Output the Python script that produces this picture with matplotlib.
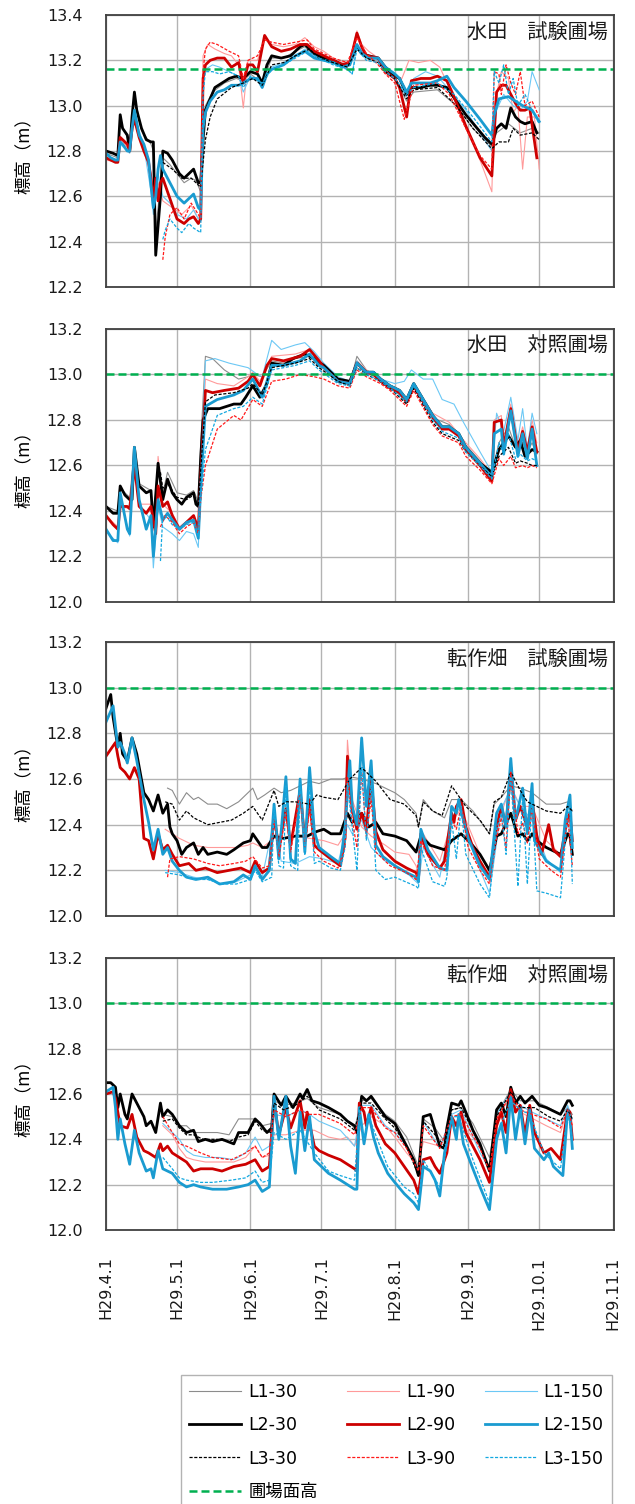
"""Groundwater level (L1-L3 wells, 30/90/150 cm) for four fields, H29.4 - H29.10."""

from datetime import date

import matplotlib
from matplotlib import pyplot as plt
from matplotlib.lines import Line2D

matplotlib.use("Agg")

plt.rcParams["font.family"] = ["DejaVu Sans", "Noto Sans CJK JP"]
CJK = ["Noto Sans CJK JP", "DejaVu Sans"]

START = date(2017, 4, 1)
MONTHS = [4, 5, 6, 7, 8, 9, 10, 11]
MONTH_LABELS = ["H29.4.1", "H29.5.1", "H29.6.1", "H29.7.1", "H29.8.1", "H29.9.1", "H29.10.1", "H29.11.1"]

TITLES = ["水田　試験圃場", "水田　対照圃場", "転作畑　試験圃場", "転作畑　対照圃場"]
FIELD_LEVEL = [13.16, 13.0, 13.0, 13.0]
Y_RANGES = [(12.2, 13.4), (12.0, 13.2), (12.0, 13.2), (12.0, 13.2)]

# (days since H29.4.1, level m)
# ---------------- 水田 試験圃場 ----------------
P1_L1_30 = [(0, 12.79), (5, 12.77), (6, 12.93), (9, 12.86), (10, 12.80), (12, 13.04), (15, 12.89), (19, 12.83), (20, 12.80), (21, 12.45), (23, 12.65), (24, 12.77), (27, 12.74), (30, 12.70), (33, 12.66), (36, 12.68), (38, 12.67), (40, 12.62), (41, 12.95), (42, 13.00), (45, 13.06), (50, 13.10), (55, 13.12), (58, 13.11), (61, 13.14), (66, 13.10), (70, 13.21), (75, 13.21), (80, 13.24), (84, 13.26), (88, 13.22), (96, 13.19), (102, 13.17), (106, 13.25), (110, 13.21), (115, 13.20), (118, 13.16), (122, 13.12), (127, 13.02), (130, 13.06), (140, 13.07), (148, 13.00), (155, 12.90), (163, 12.82), (165, 12.88), (170, 12.92), (175, 12.88), (180, 12.90), (183, 12.88)]
P1_L1_90 = [(0, 12.76), (5, 12.75), (6, 12.86), (10, 12.80), (12, 12.94), (16, 12.80), (19, 12.70), (20, 12.60), (22, 12.66), (24, 12.58), (28, 12.55), (32, 12.52), (36, 12.56), (39, 12.50), (40, 12.52), (41, 13.22), (43, 13.27), (46, 13.25), (50, 13.23), (53, 13.22), (56, 13.18), (58, 12.99), (60, 13.20), (64, 13.20), (67, 13.30), (70, 13.27), (75, 13.26), (80, 13.27), (84, 13.30), (88, 13.26), (92, 13.24), (96, 13.21), (100, 13.19), (103, 13.20), (106, 13.33), (108, 13.27), (111, 13.24), (115, 13.21), (118, 13.16), (122, 13.13), (125, 13.12), (128, 13.20), (132, 13.19), (137, 13.20), (141, 13.17), (145, 13.08), (152, 12.90), (158, 12.76), (163, 12.62), (164, 13.00), (167, 13.15), (170, 13.12), (172, 12.97), (174, 13.00), (176, 12.72), (178, 12.95), (181, 12.95), (183, 12.72)]
P1_L1_150 = [(0, 12.78), (5, 12.76), (6, 12.83), (10, 12.79), (12, 12.96), (16, 12.82), (19, 12.62), (20, 12.52), (22, 12.70), (24, 12.60), (27, 12.57), (30, 12.52), (34, 12.50), (37, 12.54), (39, 12.50), (40, 12.52), (41, 13.12), (42, 13.16), (45, 13.18), (48, 13.17), (52, 13.15), (56, 13.13), (58, 13.06), (61, 13.13), (66, 13.10), (70, 13.17), (75, 13.19), (80, 13.22), (84, 13.25), (88, 13.22), (96, 13.19), (102, 13.16), (104, 13.14), (106, 13.27), (110, 13.22), (115, 13.20), (118, 13.16), (122, 13.12), (127, 13.04), (130, 13.12), (135, 13.15), (140, 13.13), (145, 13.07), (152, 12.98), (158, 12.88), (163, 12.80), (165, 12.98), (168, 13.05), (172, 13.00), (175, 12.98), (178, 13.02), (180, 13.15), (183, 13.07)]
P1_L2_30 = [(0, 12.80), (3, 12.79), (5, 12.78), (6, 12.96), (7, 12.90), (9, 12.87), (10, 12.80), (11, 12.95), (12, 13.06), (13, 12.98), (15, 12.90), (17, 12.85), (19, 12.84), (20, 12.84), (21, 12.34), (23, 12.60), (24, 12.80), (26, 12.79), (28, 12.76), (31, 12.70), (33, 12.68), (35, 12.70), (37, 12.72), (39, 12.66), (40, 12.66), (41, 12.85), (42, 12.98), (44, 13.03), (46, 13.08), (49, 13.10), (52, 13.12), (55, 13.13), (58, 13.12), (61, 13.15), (64, 13.14), (66, 13.10), (68, 13.18), (70, 13.22), (74, 13.21), (78, 13.22), (82, 13.26), (84, 13.27), (88, 13.23), (92, 13.21), (96, 13.20), (100, 13.18), (103, 13.19), (106, 13.26), (108, 13.23), (111, 13.22), (115, 13.21), (118, 13.17), (122, 13.13), (124, 13.12), (127, 13.05), (129, 13.08), (133, 13.08), (137, 13.09), (140, 13.09), (144, 13.08), (148, 13.02), (152, 12.96), (156, 12.91), (160, 12.86), (163, 12.83), (165, 12.90), (167, 12.92), (169, 12.90), (171, 12.99), (173, 12.95), (175, 12.93), (177, 12.92), (180, 12.93), (182, 12.88)]
P1_L2_90 = [(0, 12.77), (2, 12.76), (4, 12.75), (5, 12.75), (6, 12.86), (7, 12.85), (9, 12.83), (10, 12.80), (11, 12.90), (12, 12.94), (14, 12.86), (16, 12.80), (18, 12.75), (19, 12.68), (20, 12.58), (21, 12.68), (22, 12.58), (23, 12.66), (24, 12.68), (26, 12.62), (28, 12.56), (30, 12.50), (33, 12.48), (35, 12.50), (37, 12.51), (39, 12.48), (40, 12.50), (41, 13.12), (42, 13.18), (44, 13.20), (47, 13.21), (50, 13.21), (53, 13.17), (56, 13.19), (58, 13.10), (60, 13.18), (62, 13.18), (64, 13.15), (67, 13.31), (70, 13.26), (74, 13.24), (78, 13.25), (82, 13.27), (85, 13.27), (88, 13.24), (92, 13.22), (96, 13.20), (100, 13.18), (103, 13.19), (106, 13.32), (108, 13.26), (110, 13.22), (115, 13.21), (118, 13.15), (122, 13.12), (124, 13.08), (127, 12.95), (129, 13.11), (133, 13.12), (137, 13.12), (140, 13.13), (144, 13.11), (147, 13.04), (152, 12.91), (158, 12.77), (163, 12.69), (165, 13.06), (167, 13.09), (169, 13.09), (171, 13.05), (173, 13.01), (175, 12.98), (177, 12.98), (179, 12.99), (182, 12.77)]
P1_L2_150 = [(0, 12.79), (2, 12.77), (4, 12.76), (5, 12.76), (6, 12.84), (7, 12.83), (9, 12.80), (10, 12.80), (11, 12.90), (12, 12.98), (14, 12.87), (16, 12.83), (18, 12.76), (19, 12.65), (20, 12.55), (21, 12.60), (22, 12.72), (23, 12.78), (24, 12.72), (26, 12.68), (28, 12.64), (30, 12.60), (33, 12.57), (35, 12.59), (37, 12.61), (39, 12.55), (40, 12.54), (41, 12.90), (42, 12.97), (44, 13.02), (47, 13.06), (50, 13.07), (53, 13.09), (56, 13.09), (58, 13.10), (61, 13.12), (64, 13.12), (66, 13.08), (68, 13.14), (70, 13.16), (75, 13.18), (80, 13.22), (84, 13.24), (88, 13.21), (92, 13.20), (96, 13.19), (100, 13.17), (103, 13.18), (106, 13.27), (108, 13.23), (111, 13.21), (115, 13.21), (118, 13.17), (122, 13.14), (124, 13.12), (127, 13.06), (129, 13.10), (133, 13.10), (137, 13.10), (140, 13.11), (144, 13.13), (147, 13.08), (152, 13.02), (158, 12.94), (163, 12.87), (164, 12.96), (166, 13.03), (170, 13.04), (173, 13.02), (176, 13.00), (180, 12.98), (183, 12.93)]
P1_L3_30 = [(24, 12.75), (28, 12.72), (32, 12.68), (36, 12.68), (40, 12.64), (41, 12.75), (42, 12.85), (44, 12.95), (47, 13.03), (53, 13.08), (58, 13.10), (62, 13.12), (66, 13.09), (70, 13.18), (75, 13.19), (80, 13.22), (86, 13.25), (90, 13.21), (96, 13.19), (102, 13.17), (106, 13.25), (110, 13.21), (115, 13.19), (118, 13.15), (122, 13.12), (127, 13.03), (130, 13.07), (140, 13.08), (148, 13.00), (155, 12.90), (163, 12.81), (166, 12.84), (170, 12.84), (172, 12.90), (175, 12.87), (180, 12.88), (183, 12.85)]
P1_L3_90 = [(24, 12.32), (25, 12.42), (27, 12.52), (30, 12.55), (33, 12.50), (36, 12.57), (39, 12.52), (40, 12.50), (41, 13.15), (42, 13.25), (44, 13.28), (47, 13.27), (52, 13.24), (56, 13.22), (58, 13.12), (60, 13.20), (64, 13.22), (67, 13.29), (70, 13.28), (75, 13.27), (80, 13.28), (85, 13.29), (88, 13.25), (96, 13.21), (102, 13.19), (106, 13.30), (110, 13.23), (115, 13.18), (118, 13.14), (122, 13.10), (126, 12.94), (130, 13.09), (140, 13.10), (145, 13.05), (152, 12.90), (158, 12.78), (163, 12.72), (164, 13.15), (166, 13.14), (167, 13.05), (169, 13.18), (171, 13.10), (173, 13.05), (175, 13.15), (177, 13.00), (180, 13.02), (183, 12.95)]
P1_L3_150 = [(24, 12.41), (25, 12.45), (27, 12.50), (30, 12.46), (32, 12.44), (35, 12.48), (37, 12.46), (40, 12.44), (41, 13.05), (42, 13.15), (45, 13.15), (48, 13.14), (52, 13.15), (56, 13.13), (58, 13.08), (61, 13.13), (66, 13.10), (70, 13.16), (75, 13.18), (80, 13.21), (85, 13.24), (90, 13.21), (96, 13.18), (102, 13.16), (104, 13.14), (106, 13.25), (110, 13.20), (115, 13.19), (118, 13.15), (122, 13.12), (127, 13.05), (130, 13.08), (140, 13.10), (147, 13.05), (155, 12.95), (163, 12.84), (164, 13.15), (166, 13.10), (168, 13.18), (170, 13.05), (172, 13.12), (174, 13.00), (177, 13.05), (180, 12.98), (183, 12.92)]

# ---------------- 水田 対照圃場 ----------------
P2_L1_30 = [(0, 12.42), (5, 12.40), (6, 12.50), (10, 12.46), (12, 12.66), (14, 12.52), (19, 12.49), (20, 12.36), (22, 12.60), (24, 12.48), (26, 12.57), (30, 12.48), (34, 12.47), (37, 12.49), (39, 12.44), (40, 12.70), (42, 13.08), (45, 13.07), (50, 13.02), (56, 12.98), (60, 12.99), (62, 13.00), (66, 12.99), (70, 13.06), (75, 13.05), (80, 13.07), (86, 13.08), (90, 13.05), (98, 12.98), (103, 12.96), (106, 13.08), (110, 13.02), (116, 12.98), (120, 12.95), (127, 12.88), (130, 12.95), (138, 12.81), (145, 12.78), (152, 12.69), (158, 12.62), (163, 12.56), (166, 12.70), (170, 12.77), (173, 12.68), (175, 12.72), (178, 12.66), (180, 12.70), (182, 12.65)]
P2_L1_90 = [(0, 12.38), (5, 12.33), (6, 12.42), (10, 12.41), (12, 12.58), (14, 12.43), (19, 12.43), (21, 12.32), (22, 12.64), (24, 12.43), (28, 12.39), (31, 12.33), (37, 12.38), (39, 12.33), (40, 12.60), (42, 12.98), (47, 12.96), (54, 12.95), (60, 12.99), (62, 13.01), (65, 12.97), (70, 13.08), (80, 13.09), (86, 13.11), (90, 13.07), (98, 12.98), (103, 12.97), (106, 13.06), (110, 13.02), (116, 12.98), (120, 12.95), (127, 12.90), (130, 12.96), (138, 12.83), (145, 12.79), (152, 12.70), (158, 12.63), (163, 12.56), (164, 12.80), (167, 12.82), (168, 12.70), (171, 12.87), (174, 12.68), (176, 12.77), (178, 12.68), (180, 12.80), (182, 12.70)]
P2_L1_150 = [(0, 12.31), (5, 12.26), (6, 12.46), (10, 12.29), (12, 12.66), (14, 12.43), (19, 12.36), (20, 12.15), (22, 12.42), (24, 12.33), (28, 12.30), (31, 12.27), (34, 12.31), (37, 12.30), (39, 12.24), (40, 12.55), (42, 13.06), (46, 13.07), (52, 13.05), (56, 13.04), (60, 13.03), (64, 13.00), (66, 12.99), (70, 13.15), (74, 13.11), (80, 13.13), (84, 13.14), (88, 13.10), (92, 13.05), (98, 12.99), (103, 12.97), (106, 13.06), (110, 13.01), (116, 12.98), (122, 12.96), (126, 12.97), (129, 13.02), (134, 12.98), (138, 12.98), (142, 12.89), (147, 12.87), (151, 12.79), (158, 12.66), (163, 12.57), (165, 12.83), (168, 12.75), (171, 12.90), (174, 12.71), (176, 12.85), (178, 12.67), (180, 12.83), (182, 12.74)]
P2_L2_30 = [(0, 12.42), (3, 12.39), (5, 12.39), (6, 12.51), (8, 12.47), (10, 12.45), (11, 12.45), (12, 12.68), (14, 12.51), (17, 12.48), (19, 12.49), (20, 12.33), (22, 12.61), (24, 12.45), (26, 12.54), (28, 12.48), (30, 12.45), (32, 12.43), (34, 12.46), (37, 12.48), (38, 12.43), (39, 12.42), (40, 12.63), (41, 12.80), (43, 12.85), (48, 12.85), (54, 12.87), (57, 12.87), (59, 12.90), (62, 12.95), (65, 12.90), (68, 12.96), (70, 13.05), (75, 13.04), (79, 13.07), (84, 13.09), (88, 13.07), (92, 13.04), (98, 12.98), (103, 12.97), (106, 13.05), (110, 13.01), (113, 13.01), (116, 12.98), (120, 12.95), (124, 12.93), (127, 12.89), (130, 12.96), (134, 12.89), (138, 12.82), (142, 12.77), (145, 12.77), (149, 12.74), (152, 12.68), (158, 12.61), (163, 12.57), (166, 12.67), (170, 12.73), (173, 12.68), (175, 12.71), (177, 12.64), (180, 12.67), (182, 12.66)]
P2_L2_90 = [(0, 12.38), (3, 12.34), (5, 12.32), (6, 12.42), (9, 12.42), (10, 12.41), (12, 12.60), (14, 12.42), (17, 12.39), (19, 12.42), (21, 12.30), (22, 12.51), (24, 12.42), (26, 12.44), (28, 12.38), (31, 12.32), (34, 12.35), (37, 12.38), (39, 12.32), (40, 12.55), (42, 12.93), (45, 12.92), (50, 12.93), (56, 12.94), (60, 12.97), (62, 13.00), (65, 12.95), (68, 13.04), (70, 13.07), (75, 13.06), (82, 13.08), (86, 13.11), (90, 13.06), (92, 13.03), (98, 12.97), (103, 12.96), (106, 13.05), (110, 13.01), (113, 13.00), (116, 12.97), (120, 12.94), (124, 12.92), (127, 12.88), (130, 12.95), (134, 12.88), (138, 12.81), (142, 12.76), (145, 12.76), (149, 12.73), (152, 12.67), (158, 12.60), (163, 12.53), (164, 12.79), (167, 12.80), (168, 12.68), (171, 12.85), (174, 12.66), (176, 12.75), (178, 12.66), (180, 12.77), (182, 12.66)]
P2_L2_150 = [(0, 12.32), (3, 12.27), (5, 12.27), (6, 12.48), (9, 12.32), (10, 12.30), (12, 12.68), (14, 12.45), (17, 12.32), (19, 12.38), (20, 12.20), (22, 12.45), (24, 12.36), (26, 12.39), (28, 12.36), (31, 12.32), (34, 12.35), (37, 12.36), (39, 12.28), (40, 12.50), (42, 12.86), (47, 12.89), (54, 12.91), (58, 12.93), (62, 12.98), (66, 12.90), (70, 13.04), (75, 13.04), (82, 13.06), (86, 13.09), (90, 13.04), (92, 13.03), (98, 12.97), (103, 12.96), (106, 13.05), (110, 13.01), (113, 13.01), (116, 12.98), (120, 12.95), (124, 12.93), (127, 12.89), (130, 12.96), (134, 12.89), (138, 12.82), (142, 12.77), (145, 12.77), (149, 12.74), (152, 12.68), (158, 12.61), (163, 12.55), (164, 12.74), (167, 12.76), (168, 12.65), (171, 12.84), (174, 12.64), (176, 12.74), (178, 12.63), (180, 12.76), (182, 12.60)]
P2_L3_30 = [(23, 12.57), (24, 12.50), (26, 12.52), (30, 12.46), (34, 12.45), (37, 12.47), (39, 12.42), (40, 12.58), (42, 12.88), (46, 12.91), (54, 12.92), (60, 12.94), (62, 12.96), (66, 12.91), (70, 13.03), (80, 13.05), (86, 13.07), (90, 13.03), (98, 12.97), (103, 12.95), (106, 13.03), (110, 13.00), (116, 12.97), (120, 12.94), (127, 12.87), (130, 12.94), (138, 12.79), (142, 12.74), (149, 12.71), (152, 12.66), (158, 12.60), (163, 12.55), (166, 12.64), (170, 12.68), (173, 12.61), (175, 12.62), (178, 12.61), (180, 12.60), (182, 12.60)]
P2_L3_90 = [(23, 12.33), (25, 12.38), (28, 12.35), (31, 12.30), (34, 12.33), (37, 12.35), (39, 12.30), (40, 12.45), (42, 12.60), (47, 12.76), (54, 12.82), (57, 12.80), (62, 12.89), (66, 12.86), (70, 12.97), (76, 12.98), (82, 13.00), (88, 12.99), (92, 12.98), (98, 12.95), (103, 12.94), (106, 13.02), (110, 12.99), (116, 12.96), (120, 12.93), (127, 12.86), (130, 12.93), (138, 12.78), (142, 12.73), (149, 12.70), (152, 12.64), (158, 12.58), (163, 12.52), (166, 12.63), (168, 12.60), (171, 12.64), (173, 12.59), (176, 12.60), (178, 12.59), (180, 12.60), (182, 12.59)]
P2_L3_150 = [(23, 12.18), (24, 12.38), (26, 12.37), (28, 12.34), (31, 12.32), (34, 12.34), (37, 12.35), (39, 12.29), (40, 12.45), (42, 12.67), (47, 12.82), (54, 12.85), (58, 12.86), (62, 12.90), (66, 12.87), (70, 13.02), (80, 13.04), (86, 13.06), (90, 13.02), (98, 12.96), (103, 12.95), (106, 13.03), (110, 13.00), (116, 12.97), (120, 12.94), (127, 12.88), (130, 12.95), (138, 12.80), (142, 12.75), (149, 12.72), (152, 12.66), (158, 12.60), (163, 12.54), (166, 12.70), (168, 12.65), (170, 12.74), (173, 12.63), (175, 12.65), (178, 12.62), (180, 12.63), (182, 12.62)]

# ---------------- 転作畑 試験圃場 ----------------
P3_L1_30 = [(26, 12.56), (28, 12.55), (31, 12.49), (34, 12.54), (37, 12.51), (39, 12.52), (43, 12.49), (47, 12.49), (51, 12.47), (56, 12.50), (62, 12.56), (64, 12.51), (67, 12.53), (71, 12.56), (74, 12.54), (78, 12.55), (82, 12.57), (86, 12.59), (90, 12.58), (95, 12.60), (100, 12.60), (103, 12.61), (108, 12.60), (114, 12.58), (118, 12.56), (122, 12.54), (126, 12.51), (131, 12.45), (132, 12.39), (134, 12.51), (138, 12.46), (143, 12.43), (146, 12.51), (150, 12.51), (155, 12.46), (162, 12.36), (164, 12.49), (167, 12.52), (171, 12.57), (175, 12.56), (180, 12.54), (186, 12.49), (192, 12.49), (195, 12.50), (197, 12.46)]
P3_L1_90 = [(25, 12.38), (31, 12.34), (37, 12.31), (43, 12.30), (50, 12.30), (55, 12.30), (60, 12.31), (62, 12.32), (66, 12.30), (71, 12.34), (76, 12.34), (80, 12.35), (86, 12.34), (92, 12.33), (98, 12.31), (101, 12.36), (102, 12.77), (104, 12.51), (108, 12.39), (112, 12.35), (118, 12.31), (122, 12.28), (128, 12.27), (131, 12.22), (132, 12.18), (134, 12.36), (141, 12.24), (146, 12.41), (150, 12.47), (158, 12.27), (162, 12.19), (166, 12.42), (171, 12.57), (175, 12.48), (180, 12.48), (186, 12.33), (192, 12.27), (195, 12.36), (197, 12.39)]
P3_L1_150 = [(25, 12.20), (31, 12.19), (37, 12.17), (43, 12.16), (49, 12.14), (55, 12.15), (61, 12.18), (63, 12.22), (66, 12.17), (71, 12.42), (74, 12.24), (80, 12.23), (86, 12.26), (92, 12.25), (98, 12.23), (102, 12.40), (104, 12.36), (108, 12.42), (112, 12.30), (118, 12.24), (122, 12.22), (128, 12.18), (132, 12.14), (134, 12.30), (141, 12.17), (146, 12.43), (150, 12.48), (155, 12.28), (162, 12.10), (167, 12.47), (171, 12.56), (175, 12.48), (180, 12.42), (186, 12.25), (192, 12.19), (195, 12.42), (197, 12.30)]
P3_L2_30 = [(0, 12.91), (2, 12.97), (3, 12.87), (5, 12.74), (6, 12.80), (7, 12.71), (9, 12.68), (11, 12.78), (13, 12.71), (16, 12.54), (18, 12.51), (20, 12.46), (22, 12.53), (24, 12.45), (26, 12.49), (27, 12.39), (28, 12.36), (30, 12.33), (32, 12.27), (34, 12.30), (37, 12.32), (39, 12.27), (41, 12.30), (43, 12.27), (47, 12.28), (51, 12.27), (54, 12.29), (58, 12.32), (61, 12.33), (62, 12.36), (64, 12.33), (66, 12.30), (68, 12.30), (71, 12.35), (75, 12.34), (80, 12.35), (85, 12.35), (89, 12.37), (92, 12.38), (95, 12.36), (99, 12.36), (102, 12.45), (104, 12.41), (108, 12.45), (111, 12.39), (114, 12.41), (117, 12.36), (122, 12.35), (127, 12.33), (131, 12.28), (133, 12.35), (137, 12.31), (143, 12.29), (146, 12.33), (150, 12.36), (154, 12.32), (158, 12.27), (162, 12.20), (165, 12.35), (167, 12.36), (171, 12.45), (174, 12.35), (176, 12.36), (178, 12.33), (180, 12.36), (182, 12.33), (186, 12.30), (192, 12.27), (195, 12.36), (196, 12.35), (197, 12.27)]
P3_L2_90 = [(0, 12.70), (4, 12.76), (5, 12.70), (6, 12.65), (8, 12.63), (10, 12.60), (12, 12.65), (14, 12.60), (16, 12.34), (18, 12.33), (20, 12.25), (22, 12.36), (24, 12.29), (26, 12.31), (28, 12.27), (31, 12.22), (35, 12.23), (38, 12.20), (42, 12.21), (47, 12.19), (52, 12.20), (57, 12.21), (61, 12.19), (63, 12.24), (66, 12.19), (69, 12.21), (71, 12.44), (73, 12.30), (76, 12.47), (78, 12.31), (82, 12.55), (84, 12.33), (86, 12.51), (88, 12.31), (90, 12.29), (95, 12.25), (99, 12.22), (101, 12.34), (102, 12.70), (104, 12.47), (106, 12.38), (108, 12.45), (110, 12.38), (112, 12.60), (114, 12.37), (117, 12.29), (122, 12.24), (127, 12.21), (131, 12.19), (132, 12.16), (133, 12.36), (136, 12.27), (141, 12.21), (143, 12.24), (146, 12.45), (147, 12.41), (148, 12.48), (150, 12.51), (152, 12.39), (155, 12.30), (158, 12.24), (162, 12.17), (165, 12.39), (167, 12.48), (169, 12.39), (171, 12.65), (173, 12.42), (175, 12.48), (178, 12.39), (180, 12.51), (182, 12.35), (184, 12.27), (187, 12.40), (189, 12.29), (192, 12.26), (195, 12.43), (196, 12.45), (197, 12.33)]
P3_L2_150 = [(0, 12.85), (3, 12.92), (5, 12.74), (6, 12.76), (8, 12.71), (9, 12.67), (11, 12.78), (13, 12.68), (16, 12.51), (18, 12.41), (20, 12.29), (22, 12.38), (24, 12.27), (26, 12.30), (28, 12.24), (31, 12.20), (34, 12.17), (38, 12.16), (43, 12.17), (48, 12.14), (54, 12.15), (58, 12.18), (61, 12.16), (63, 12.22), (66, 12.16), (69, 12.20), (71, 12.49), (73, 12.25), (76, 12.61), (78, 12.25), (80, 12.23), (82, 12.60), (84, 12.28), (86, 12.65), (88, 12.37), (90, 12.30), (95, 12.26), (99, 12.23), (101, 12.39), (103, 12.68), (104, 12.48), (106, 12.40), (108, 12.78), (110, 12.48), (112, 12.68), (114, 12.31), (117, 12.26), (122, 12.22), (127, 12.19), (131, 12.17), (132, 12.15), (133, 12.38), (136, 12.29), (141, 12.21), (144, 12.20), (146, 12.48), (148, 12.45), (149, 12.51), (150, 12.46), (153, 12.34), (158, 12.22), (162, 12.16), (165, 12.45), (167, 12.49), (169, 12.39), (171, 12.69), (173, 12.42), (176, 12.56), (178, 12.36), (180, 12.58), (181, 12.33), (186, 12.24), (192, 12.20), (194, 12.42), (196, 12.53), (197, 12.30)]
P3_L3_30 = [(25, 12.50), (28, 12.49), (31, 12.42), (34, 12.46), (37, 12.43), (39, 12.42), (43, 12.40), (48, 12.41), (53, 12.42), (58, 12.45), (62, 12.48), (66, 12.42), (71, 12.55), (73, 12.48), (76, 12.50), (80, 12.50), (86, 12.49), (89, 12.53), (92, 12.52), (98, 12.51), (103, 12.60), (108, 12.65), (111, 12.62), (114, 12.59), (120, 12.51), (126, 12.49), (131, 12.44), (132, 12.39), (134, 12.50), (138, 12.46), (142, 12.44), (146, 12.57), (148, 12.54), (152, 12.48), (158, 12.42), (162, 12.36), (164, 12.50), (167, 12.52), (171, 12.63), (175, 12.55), (178, 12.50), (182, 12.48), (186, 12.46), (192, 12.45), (195, 12.48), (197, 12.46)]
P3_L3_90 = [(26, 12.17), (27, 12.25), (31, 12.26), (37, 12.25), (43, 12.23), (48, 12.22), (54, 12.23), (59, 12.24), (62, 12.26), (66, 12.21), (69, 12.22), (71, 12.42), (73, 12.26), (76, 12.45), (78, 12.28), (82, 12.54), (84, 12.30), (86, 12.47), (88, 12.28), (92, 12.24), (98, 12.21), (101, 12.30), (102, 12.61), (104, 12.42), (106, 12.30), (108, 12.63), (110, 12.35), (112, 12.51), (114, 12.28), (120, 12.22), (127, 12.19), (131, 12.16), (133, 12.33), (138, 12.22), (143, 12.20), (146, 12.42), (148, 12.38), (150, 12.48), (153, 12.30), (158, 12.20), (162, 12.14), (165, 12.34), (167, 12.43), (169, 12.30), (171, 12.63), (174, 12.36), (176, 12.41), (178, 12.32), (180, 12.46), (183, 12.25), (188, 12.20), (192, 12.17), (195, 12.44), (197, 12.22)]
P3_L3_150 = [(25, 12.19), (31, 12.18), (37, 12.16), (43, 12.16), (49, 12.14), (55, 12.14), (61, 12.16), (63, 12.20), (66, 12.15), (70, 12.17), (71, 12.48), (73, 12.22), (75, 12.21), (76, 12.57), (78, 12.22), (81, 12.20), (82, 12.58), (84, 12.27), (86, 12.58), (88, 12.23), (90, 12.24), (95, 12.21), (99, 12.20), (101, 12.30), (102, 12.58), (104, 12.39), (106, 12.20), (108, 12.65), (110, 12.33), (112, 12.58), (114, 12.20), (118, 12.16), (122, 12.17), (131, 12.13), (132, 12.12), (133, 12.30), (138, 12.15), (143, 12.13), (144, 12.17), (146, 12.42), (148, 12.25), (150, 12.48), (152, 12.27), (158, 12.14), (162, 12.08), (165, 12.38), (167, 12.45), (169, 12.27), (171, 12.61), (174, 12.13), (176, 12.52), (178, 12.14), (180, 12.51), (182, 12.11), (186, 12.10), (192, 12.08), (195, 12.45), (196, 12.46), (197, 12.14)]

# ---------------- 転作畑 対照圃場 ----------------
P4_L1_30 = [(24, 12.51), (28, 12.50), (31, 12.46), (34, 12.46), (37, 12.43), (41, 12.43), (47, 12.43), (52, 12.42), (56, 12.49), (60, 12.49), (63, 12.49), (66, 12.46), (70, 12.47), (71, 12.57), (75, 12.55), (80, 12.56), (85, 12.58), (90, 12.54), (99, 12.51), (105, 12.45), (108, 12.57), (112, 12.58), (118, 12.51), (122, 12.48), (127, 12.41), (132, 12.28), (134, 12.49), (139, 12.45), (143, 12.39), (146, 12.53), (150, 12.54), (155, 12.47), (162, 12.32), (165, 12.51), (171, 12.62), (175, 12.57), (181, 12.57), (187, 12.54), (192, 12.51), (195, 12.54), (197, 12.51)]
P4_L1_90 = [(24, 12.46), (28, 12.42), (31, 12.36), (34, 12.32), (37, 12.31), (42, 12.30), (48, 12.30), (54, 12.30), (59, 12.32), (63, 12.37), (66, 12.32), (69, 12.33), (71, 12.42), (76, 12.42), (82, 12.44), (88, 12.44), (94, 12.41), (99, 12.40), (102, 12.41), (105, 12.37), (108, 12.46), (112, 12.50), (118, 12.46), (122, 12.41), (127, 12.34), (132, 12.28), (134, 12.39), (141, 12.37), (146, 12.46), (150, 12.47), (158, 12.37), (162, 12.28), (165, 12.49), (171, 12.59), (175, 12.52), (186, 12.46), (192, 12.43), (195, 12.53), (197, 12.43)]
P4_L1_150 = [(24, 12.47), (28, 12.43), (31, 12.40), (34, 12.35), (37, 12.33), (42, 12.32), (48, 12.32), (54, 12.31), (59, 12.34), (63, 12.41), (66, 12.35), (69, 12.37), (71, 12.51), (76, 12.50), (82, 12.53), (86, 12.51), (90, 12.48), (99, 12.44), (105, 12.37), (108, 12.55), (112, 12.55), (118, 12.46), (122, 12.43), (127, 12.37), (132, 12.27), (134, 12.48), (141, 12.36), (146, 12.51), (150, 12.53), (158, 12.34), (162, 12.27), (165, 12.51), (171, 12.61), (175, 12.55), (180, 12.52), (186, 12.49), (192, 12.46), (195, 12.55), (197, 12.49)]
P4_L2_30 = [(0, 12.65), (2, 12.65), (4, 12.63), (5, 12.54), (6, 12.60), (8, 12.51), (9, 12.49), (11, 12.60), (14, 12.54), (16, 12.50), (17, 12.46), (19, 12.48), (21, 12.43), (23, 12.56), (24, 12.50), (26, 12.53), (28, 12.51), (31, 12.46), (34, 12.43), (37, 12.44), (39, 12.39), (42, 12.40), (45, 12.39), (49, 12.40), (54, 12.38), (56, 12.43), (60, 12.43), (63, 12.49), (65, 12.47), (68, 12.43), (70, 12.45), (71, 12.60), (74, 12.55), (76, 12.59), (79, 12.54), (82, 12.60), (83, 12.58), (85, 12.62), (87, 12.57), (90, 12.56), (94, 12.54), (99, 12.51), (102, 12.48), (105, 12.46), (106, 12.43), (108, 12.59), (110, 12.57), (112, 12.59), (114, 12.56), (118, 12.50), (122, 12.47), (125, 12.41), (127, 12.37), (130, 12.31), (132, 12.24), (134, 12.50), (137, 12.51), (139, 12.44), (141, 12.37), (143, 12.36), (144, 12.45), (146, 12.56), (149, 12.55), (150, 12.57), (152, 12.52), (155, 12.44), (158, 12.38), (162, 12.26), (165, 12.53), (167, 12.56), (169, 12.50), (171, 12.63), (173, 12.56), (175, 12.59), (177, 12.56), (180, 12.59), (183, 12.55), (186, 12.54), (192, 12.51), (195, 12.57), (196, 12.57), (197, 12.55)]
P4_L2_90 = [(0, 12.60), (3, 12.61), (4, 12.58), (6, 12.46), (9, 12.45), (11, 12.51), (13, 12.41), (16, 12.35), (18, 12.34), (21, 12.32), (23, 12.38), (24, 12.35), (26, 12.37), (28, 12.34), (31, 12.32), (34, 12.30), (37, 12.26), (40, 12.27), (45, 12.27), (49, 12.26), (54, 12.28), (59, 12.29), (63, 12.31), (66, 12.26), (69, 12.28), (71, 12.57), (73, 12.42), (76, 12.54), (78, 12.45), (82, 12.57), (84, 12.45), (85, 12.52), (88, 12.37), (90, 12.35), (94, 12.33), (99, 12.31), (105, 12.27), (106, 12.26), (107, 12.56), (109, 12.52), (110, 12.46), (112, 12.54), (114, 12.46), (118, 12.38), (122, 12.34), (126, 12.28), (130, 12.22), (132, 12.16), (134, 12.31), (137, 12.32), (139, 12.28), (141, 12.25), (143, 12.31), (144, 12.34), (146, 12.50), (148, 12.46), (150, 12.52), (152, 12.43), (155, 12.37), (158, 12.31), (162, 12.21), (165, 12.46), (167, 12.52), (169, 12.43), (171, 12.62), (173, 12.52), (175, 12.55), (177, 12.42), (179, 12.55), (181, 12.43), (185, 12.34), (188, 12.36), (192, 12.31), (195, 12.53), (196, 12.52), (197, 12.40)]
P4_L2_150 = [(0, 12.61), (3, 12.63), (4, 12.54), (5, 12.40), (6, 12.49), (8, 12.38), (10, 12.29), (12, 12.44), (14, 12.34), (17, 12.26), (19, 12.27), (20, 12.23), (22, 12.35), (24, 12.27), (26, 12.26), (28, 12.25), (31, 12.21), (34, 12.19), (37, 12.20), (40, 12.19), (45, 12.18), (51, 12.18), (56, 12.19), (60, 12.20), (63, 12.22), (66, 12.17), (69, 12.19), (71, 12.59), (73, 12.40), (76, 12.59), (78, 12.37), (80, 12.25), (82, 12.52), (84, 12.35), (86, 12.50), (88, 12.31), (90, 12.29), (94, 12.25), (99, 12.22), (105, 12.18), (106, 12.18), (107, 12.54), (109, 12.38), (111, 12.51), (113, 12.41), (115, 12.34), (119, 12.25), (122, 12.21), (126, 12.16), (130, 12.12), (132, 12.09), (134, 12.28), (137, 12.26), (139, 12.22), (141, 12.15), (143, 12.34), (146, 12.50), (148, 12.40), (149, 12.51), (151, 12.38), (155, 12.27), (158, 12.19), (162, 12.09), (165, 12.40), (167, 12.47), (169, 12.34), (171, 12.59), (173, 12.40), (175, 12.54), (177, 12.38), (179, 12.53), (181, 12.36), (185, 12.31), (187, 12.34), (189, 12.28), (193, 12.24), (195, 12.53), (196, 12.50), (197, 12.36)]
P4_L3_30 = [(24, 12.48), (28, 12.49), (31, 12.45), (34, 12.42), (37, 12.42), (41, 12.40), (47, 12.40), (52, 12.39), (56, 12.41), (60, 12.42), (63, 12.48), (66, 12.44), (70, 12.43), (71, 12.56), (75, 12.53), (80, 12.55), (85, 12.59), (90, 12.53), (99, 12.49), (105, 12.44), (108, 12.56), (112, 12.56), (118, 12.49), (122, 12.45), (127, 12.37), (132, 12.24), (134, 12.48), (139, 12.42), (143, 12.37), (146, 12.53), (150, 12.54), (155, 12.44), (162, 12.27), (165, 12.50), (171, 12.61), (175, 12.54), (181, 12.54), (187, 12.50), (192, 12.48), (195, 12.53), (197, 12.49)]
P4_L3_90 = [(24, 12.50), (28, 12.43), (31, 12.38), (34, 12.37), (40, 12.34), (45, 12.32), (53, 12.31), (59, 12.34), (63, 12.37), (66, 12.32), (69, 12.34), (71, 12.53), (76, 12.50), (82, 12.53), (86, 12.51), (90, 12.51), (99, 12.47), (105, 12.42), (108, 12.54), (112, 12.54), (118, 12.45), (122, 12.43), (127, 12.36), (132, 12.26), (134, 12.46), (141, 12.36), (146, 12.50), (150, 12.51), (158, 12.36), (162, 12.26), (165, 12.49), (171, 12.60), (175, 12.53), (180, 12.51), (186, 12.49), (192, 12.45), (195, 12.53), (197, 12.46)]
P4_L3_150 = [(24, 12.32), (28, 12.27), (31, 12.23), (34, 12.22), (40, 12.21), (45, 12.21), (53, 12.22), (59, 12.23), (63, 12.26), (66, 12.21), (69, 12.22), (71, 12.43), (76, 12.40), (82, 12.44), (88, 12.34), (94, 12.26), (99, 12.24), (105, 12.22), (107, 12.53), (109, 12.40), (111, 12.50), (119, 12.28), (126, 12.19), (130, 12.16), (132, 12.12), (134, 12.31), (141, 12.19), (146, 12.50), (149, 12.50), (155, 12.31), (162, 12.12), (165, 12.42), (171, 12.57), (175, 12.53), (179, 12.51), (185, 12.34), (192, 12.27), (195, 12.52), (197, 12.40)]

SERIES_NAMES = ["L1-30", "L1-90", "L1-150", "L2-30", "L2-90", "L2-150", "L3-30", "L3-90", "L3-150"]
PANELS = [
    [P1_L1_30, P1_L1_90, P1_L1_150, P1_L2_30, P1_L2_90, P1_L2_150, P1_L3_30, P1_L3_90, P1_L3_150],
    [P2_L1_30, P2_L1_90, P2_L1_150, P2_L2_30, P2_L2_90, P2_L2_150, P2_L3_30, P2_L3_90, P2_L3_150],
    [P3_L1_30, P3_L1_90, P3_L1_150, P3_L2_30, P3_L2_90, P3_L2_150, P3_L3_30, P3_L3_90, P3_L3_150],
    [P4_L1_30, P4_L1_90, P4_L1_150, P4_L2_30, P4_L2_90, P4_L2_150, P4_L3_30, P4_L3_90, P4_L3_150],
]

STYLES = {
    "L1-30": dict(color="#8c8c8c", lw=0.8, ls="-"),
    "L1-90": dict(color="#ff9a9a", lw=0.8, ls="-"),
    "L1-150": dict(color="#6cc8f5", lw=0.8, ls="-"),
    "L2-30": dict(color="#000000", lw=2.0, ls="-"),
    "L2-90": dict(color="#cc0000", lw=2.0, ls="-"),
    "L2-150": dict(color="#1a9bd0", lw=2.0, ls="-"),
    "L3-30": dict(color="#000000", lw=0.9, ls=(0, (2.5, 1.3))),
    "L3-90": dict(color="#ff1a1a", lw=0.9, ls=(0, (2.5, 1.3))),
    "L3-150": dict(color="#13a8e0", lw=0.9, ls=(0, (2.5, 1.3))),
}
GREEN = dict(color="#00b050", lw=1.8, ls=(0, (3.2, 1.6)))

# axes boxes in figure pixels: bottom, top
AX_LEFT, AX_WIDTH = 106 / 635, 508 / 635
AX_BOXES = [(287, 15), (602, 329), (916, 642), (1230, 958)]


def month_days():
    return [(date(2017, m, 1) - START).days for m in MONTHS]


fig = plt.figure(figsize=(6.35, 15.04), dpi=100)
ticks_x = month_days()
axes = []
for i, (bot, top) in enumerate(AX_BOXES):
    ax = fig.add_axes([AX_LEFT, 1 - bot / 1504, AX_WIDTH, (bot - top) / 1504])
    axes.append(ax)

    for name, series in zip(SERIES_NAMES, PANELS[i]):
        days = [p[0] for p in series]
        vals = [p[1] for p in series]
        ax.plot(days, vals, label=name, **STYLES[name])
    ax.axhline(FIELD_LEVEL[i], label="圃場面高", **GREEN)

    lo, hi = Y_RANGES[i]
    ax.set_ylim(lo, hi)
    yt = [round(lo + 0.2 * k, 1) for k in range(int(round((hi - lo) / 0.2)) + 1)]
    ax.set_yticks(yt)
    ax.set_yticklabels([f"{v:.1f}" for v in yt])
    ax.set_xlim(0, 214.6)
    ax.set_xticks(ticks_x)
    if i == 3:
        ax.set_xticklabels(MONTH_LABELS, rotation=90)
    else:
        ax.set_xticklabels([])

    ax.grid(True, color="#b3b3b3", lw=1.0)
    ax.set_axisbelow(True)
    ax.tick_params(length=0, labelsize=11.5, pad=17, colors="#1a1a1a")
    ax.tick_params(axis="x", pad=19)
    for side, sp in ax.spines.items():
        sp.set_color("#404040")
        sp.set_linewidth(1.3)

    ax.set_ylabel("標高（m）", family=CJK, fontsize=12.5)
    ax.yaxis.set_label_coords(-0.145, 0.5)
    ax.text(0.988, 0.975, TITLES[i], transform=ax.transAxes, ha="right", va="top",
            fontsize=14.5, family=CJK, color="#1a1a1a")

# legend: rows L1 / L2 / L3 / field level, three columns
handles = {name: Line2D([], [], **STYLES[name]) for name in SERIES_NAMES}
green_handle = Line2D([], [], **GREEN)
order = ["L1-30", "L2-30", "L3-30", None, "L1-90", "L2-90", "L3-90", "L1-150", "L2-150", "L3-150"]
leg_handles = [handles[n] if n else green_handle for n in order]
leg_labels = [n if n else "圃場面高" for n in order]
leg = fig.legend(
    leg_handles, leg_labels, ncol=3, loc="upper left",
    bbox_to_anchor=(172 / 635, 1 - 1366 / 1504, 449 / 635, 0), mode="expand",
    frameon=True, fancybox=False, edgecolor="#a0a0a0",
    handlelength=3.0, handletextpad=0.4, labelspacing=0.87, borderpad=0.5,
    prop={"family": ["DejaVu Sans", "Noto Sans CJK JP"], "size": 12.5},
)
leg.get_frame().set_linewidth(1.0)

fig.savefig("out.png", dpi=100)
